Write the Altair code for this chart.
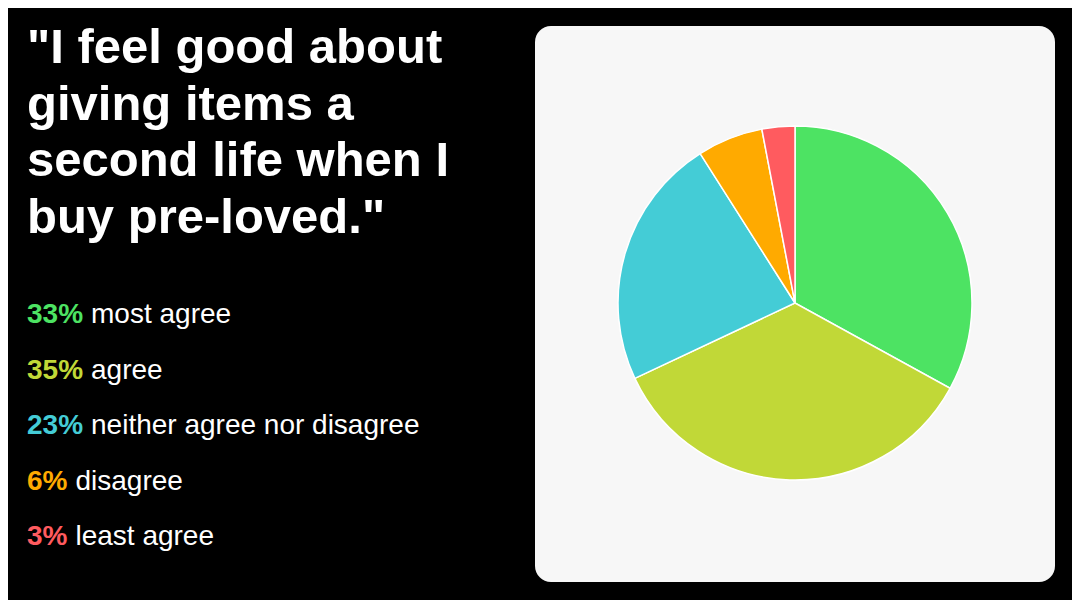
import altair as alt
import pandas as pd

# ---- data ----
categories = ["most agree", "agree", "neither agree nor disagree", "disagree", "least agree"]
values = [33, 35, 23, 6, 3]
colors = ["#4de363", "#c1d837", "#44ccd6", "#ffaa00", "#ff5b5f"]
title_lines = ['"I feel good about', 'giving items a', 'second life when I', 'buy pre-loved."']

W, H = 1064, 592
FS_LEG = 28

def pct_width(s, fs):
    w = 0.0
    for ch in s:
        w += 0.889 if ch == "%" else 0.556
    return w * fs

pie_df = pd.DataFrame({"category": categories, "value": values, "idx": list(range(len(values)))})

leg_df = pd.DataFrame({
    "pct": [f"{v}%" for v in values],
    "label": categories,
    "color": colors,
    "ypos": [315 + i * 55.5 for i in range(len(values))],
})
leg_df["xpct"] = 19
leg_df["xlab"] = [19 + pct_width(p, FS_LEG) + 8 for p in leg_df["pct"]]

title_df = pd.DataFrame({"line": title_lines, "ypos": [55 + i * 56.7 for i in range(len(title_lines))]})

panel = alt.Chart(pd.DataFrame({"a": [0]})).mark_rect(
    color="#f7f7f7", cornerRadius=16
).encode(
    x=alt.value(527), x2=alt.value(1047), y=alt.value(18), y2=alt.value(574)
)

pie = alt.Chart(pie_df).mark_arc(
    radius=177, stroke="#ffffff", strokeWidth=1.5, x=787, y=295
).encode(
    theta=alt.Theta("value:Q", stack=True),
    color=alt.Color("category:N", scale=alt.Scale(domain=categories, range=colors), legend=None),
    order=alt.Order("idx:Q"),
)

title = alt.Chart(title_df).mark_text(
    align="left", baseline="alphabetic", font="Liberation Sans", fontWeight="bold",
    fontSize=49, color="#ffffff"
).encode(
    x=alt.value(19),
    y=alt.Y("ypos:Q", scale=None),
    text="line:N",
)

pct_text = alt.Chart(leg_df).mark_text(
    align="left", baseline="alphabetic", font="Liberation Sans", fontWeight="bold",
    fontSize=FS_LEG
).encode(
    x=alt.X("xpct:Q", scale=None),
    y=alt.Y("ypos:Q", scale=None),
    text="pct:N",
    color=alt.Color("color:N", scale=None),
)

lab_text = alt.Chart(leg_df).mark_text(
    align="left", baseline="alphabetic", font="Liberation Sans", fontWeight="normal",
    fontSize=FS_LEG, color="#ffffff"
).encode(
    x=alt.X("xlab:Q", scale=None),
    y=alt.Y("ypos:Q", scale=None),
    text="label:N",
)

chart = alt.layer(panel, pie, title, pct_text, lab_text).properties(
    width=W, height=H, autosize=alt.AutoSizeParams(type="none"), padding=0,
    background="#000000",
).configure_view(stroke=None)

chart.save("out.html", embed_options={"renderer": "svg", "actions": False})
